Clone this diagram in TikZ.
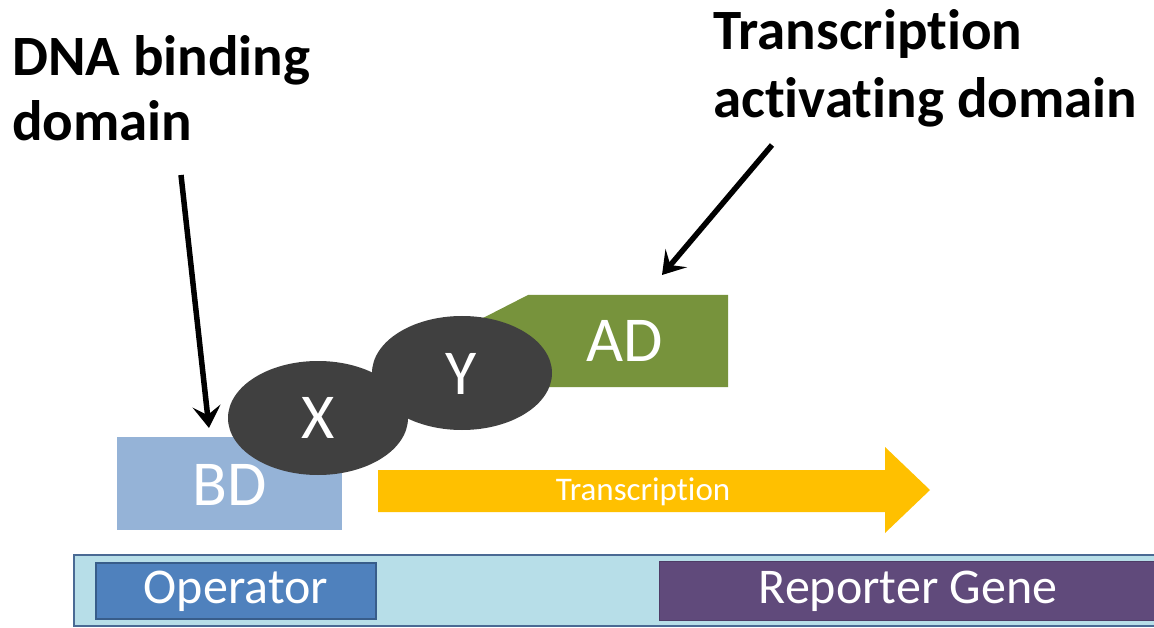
\documentclass[tikz,border=0pt]{standalone}
\usepackage{fontspec}
\setmainfont{Carlito}[Ligatures=NoCommon]
\usetikzlibrary{arrows.meta,shapes.geometric}
\definecolor{bdblue}{HTML}{95B3D7}
\definecolor{xydark}{HTML}{404040}
\definecolor{adgreen}{HTML}{77933C}
\definecolor{txorange}{HTML}{FFC000}
\definecolor{barfill}{HTML}{B7DEE8}
\definecolor{barline}{HTML}{4A6A94}
\definecolor{opblue}{HTML}{4F81BD}
\definecolor{opline}{HTML}{385D8A}
\definecolor{repurple}{HTML}{604A7B}
\definecolor{repline}{HTML}{4E3C66}
\tikzset{
  headline/.style={font=\fontsize{57}{68}\selectfont\bfseries, align=left, inner sep=0pt, text=black},
  bigwhite/.style={font=\fontsize{64}{70}\selectfont, text=white, inner sep=0pt},
  genelabel/.style={font=\fontsize{50}{56}\selectfont, text=white, inner sep=0pt},
  blob/.style={ellipse, fill=xydark, minimum width=180pt, minimum height=114pt, inner sep=0pt},
  pointer/.style={line width=5.5pt, -{Stealth[length=22pt,width=28pt,inset=9pt]}},
}
\begin{document}
\begin{tikzpicture}[x=1pt,y=-1pt]
\clip (0,0) rectangle (1154,628);
\fill[white] (0,0) rectangle (1154,628);

% headlines (anchor at baseline of last line)
\node[headline, font=\fontsize{57}{65}\selectfont\bfseries, anchor=base west] (dnalabel) at (12,141) {DNA binding\\domain};
\node[headline, anchor=base west] (adlabel) at (713,118) {Transcription\\activating domain};

% bottom bar
\draw[fill=barfill, draw=barline, line width=2.5pt] (74,555) rectangle (1170,626);
\draw[fill=opblue, draw=opline, line width=2.5pt] (96,563) rectangle (376,619);
\node[genelabel] (operator) at (236,591) {Operator};
\draw[fill=repurple, draw=repline, line width=1pt] (659,561) rectangle (1170,620);
\node[genelabel] (reporter) at (908,591) {Reporter Gene};

% transcription arrow
\fill[txorange] (378,470) -- (885,470) -- (885,447) -- (930,490) -- (885,533) -- (885,512) -- (378,512) -- cycle;
\node[font=\fontsize{33}{37}\selectfont, text=white, inner sep=0pt] (txlabel) at (643,492) {Transcription};

% BD
\fill[bdblue] (117,437) rectangle (342,530);
\node[bigwhite] (bd) at (230,485) {BD};

% AD
\fill[adgreen] (438,341) -- (528,295) -- (728,295) -- (728,387) -- (528,387) -- cycle;
\node[bigwhite] (ad) at (625,341) {AD};

% X and Y
\node[blob] (x) at (318,418) {};
\node[blob] (y) at (462,373) {};
\node[bigwhite] (xlab) at (318,418) {X};
\node[bigwhite] (ylab) at (461,374) {Y};

% pointers
\coordinate (dnatail) at (181,175);
\coordinate (dnatip) at (209,428);
\coordinate (adtail) at (772,145);
\coordinate (adtip) at (662,275);
\draw[pointer] (dnatail) -- (dnatip);
\draw[pointer] (adtail) -- (adtip);
\end{tikzpicture}
\end{document}
